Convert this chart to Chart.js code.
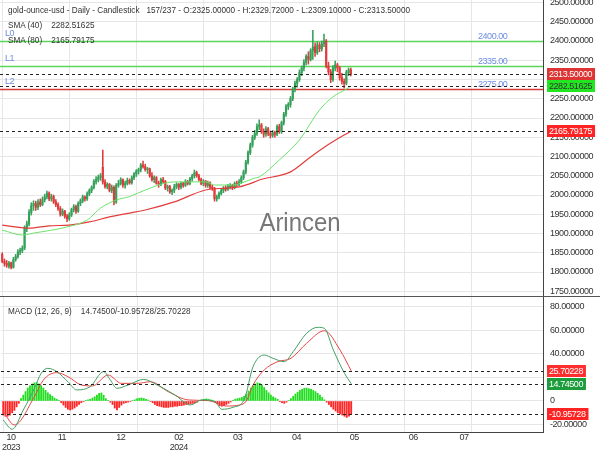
<!DOCTYPE html>
<html>
<head>
<meta charset="utf-8">
<script src="https://cdn.jsdelivr.net/npm/chart.js@4.4.1/dist/chart.umd.min.js"></script>
<style>
  html, body { margin: 0; padding: 0; background: #fff; }
  #wrap { position: relative; width: 600px; height: 450px; overflow: hidden;
          font-family: "Liberation Sans", Arial, sans-serif; color: #333; }
  canvas { position: absolute; left: 0; }
  #main { top: 0; }
  #macd { top: 297px; }
  .txt { position: absolute; font-size: 9px; line-height: 10px; white-space: pre; color: #333;
         transform: scaleX(0.91); transform-origin: 0 0; }
  .sep { position: absolute; left: 0; top: 296px; width: 600px; height: 1px; background: #555; }
  .mark { position: absolute; left: 0; width: 600px; top: 207px; text-align: center;
          font-size: 26px; line-height: 30px; color: rgba(95, 95, 95, 0.85);
          transform: scaleX(0.92); transform-origin: 300px 0; }
</style>
</head>
<body>
<div id="wrap">
  <canvas id="main" width="600" height="297"></canvas>
  <canvas id="macd" width="600" height="153"></canvas>
  <div class="sep"></div>
  <div class="mark">Arincen</div>
  <div class="txt" style="left:8px;top:5px">gold-ounce-usd - Daily - Candlestick   157/237 - O:2325.00000 - H:2329.72000 - L:2309.10000 - C:2313.50000</div>
  <div class="txt" style="left:8px;top:20px">SMA (40)    2282.51625</div>
  <div class="txt" style="left:8px;top:35px">SMA (80)    2165.79175</div>
  <div class="txt" style="left:8px;top:306px">MACD (12, 26, 9)    14.74500/-10.95728/25.70228</div>
</div>
<script>
// ---- candles (157 daily bars) ----
const opens = [
  1846,1828,1822,1815,1824,1812,1832,1840,1852,1856,
  1862,1915,1925,1955,1972,1978,1968,1982,1975,1988,
  1995,2005,1990,1996,1982,1975,1965,1950,1958,1945,
  1938,1948,1962,1970,1958,1978,1985,1995,1990,2003,
  2012,2020,2035,2040,2046,2072,2034,2022,2028,2012,
  2020,1982,2025,2030,2040,2026,2030,2038,2032,2045,
  2055,2062,2066,2078,2074,2066,2068,2050,2040,2045,
  2030,2028,2040,2035,2018,2022,2008,2012,2022,2028,
  2020,2030,2025,2035,2030,2042,2050,2058,2050,2040,
  2030,2036,2025,2032,2020,2018,1990,1995,2004,2012,
  2018,2015,2022,2025,2020,2030,2028,2034,2045,2060,
  2085,2110,2130,2150,2160,2178,2182,2165,2158,2172,
  2160,2155,2162,2158,2178,2165,2188,2210,2230,2235,
  2250,2275,2290,2300,2318,2330,2345,2360,2352,2375,
  2385,2370,2390,2380,2392,2400,2335,2320,2300,2330,
  2338,2330,2305,2295,2290,2318,2325];
const highs = [
  1850,1834,1830,1828,1826,1838,1846,1858,1862,1868,
  1920,1932,1962,1980,1985,1984,1988,1990,1995,2002,
  2010,2008,2002,2000,1988,1980,1970,1964,1960,1950,
  1954,1966,1975,1974,1982,1990,2000,1998,2008,2016,
  2024,2040,2048,2052,2056,2117,2040,2032,2030,2026,
  2024,2030,2038,2045,2042,2036,2044,2042,2050,2058,
  2066,2070,2082,2088,2080,2072,2070,2058,2050,2048,
  2036,2044,2046,2038,2026,2025,2016,2028,2032,2030,
  2034,2033,2040,2038,2046,2054,2065,2062,2054,2044,
  2040,2038,2036,2034,2026,2020,2000,2008,2016,2022,
  2024,2028,2030,2028,2034,2036,2040,2050,2065,2090,
  2115,2135,2155,2168,2185,2195,2186,2172,2178,2176,
  2166,2168,2166,2182,2184,2192,2215,2235,2240,2256,
  2280,2296,2305,2325,2335,2352,2365,2372,2380,2428,
  2395,2398,2396,2400,2418,2404,2345,2326,2336,2348,
  2342,2334,2316,2302,2324,2330,2329.72];
const lows = [
  1824,1815,1812,1810,1808,1810,1828,1836,1845,1850,
  1858,1905,1920,1948,1960,1960,1962,1970,1972,1982,
  1990,1985,1984,1978,1970,1960,1945,1946,1940,1931,
  1934,1944,1956,1952,1955,1972,1980,1984,1986,1998,
  2006,2016,2028,2034,2038,2028,2018,2016,2008,2006,
  1974,1978,2020,2026,2020,2018,2026,2028,2028,2040,
  2048,2054,2060,2070,2062,2056,2046,2036,2032,2028,
  2020,2024,2030,2014,2010,2004,2001,2006,2016,2014,
  2016,2020,2022,2026,2026,2036,2044,2046,2036,2026,
  2024,2020,2020,2016,2012,1984,1984,1990,2000,2006,
  2010,2012,2016,2014,2016,2022,2024,2030,2040,2055,
  2080,2105,2124,2144,2155,2170,2160,2150,2152,2154,
  2148,2150,2150,2154,2160,2160,2182,2204,2222,2228,
  2245,2268,2280,2295,2310,2322,2338,2340,2348,2352,
  2360,2365,2372,2374,2385,2330,2312,2292,2295,2322,
  2320,2298,2288,2278,2286,2310,2309.1];
const closes = [
  1828,1822,1818,1824,1812,1832,1840,1852,1856,1862,
  1915,1925,1955,1972,1978,1968,1982,1975,1988,1995,
  2005,1990,1996,1982,1975,1965,1950,1958,1945,1938,
  1948,1962,1970,1958,1978,1985,1995,1990,2003,2012,
  2020,2035,2040,2046,2050,2034,2022,2028,2012,2020,
  1982,2025,2030,2040,2026,2030,2038,2032,2045,2055,
  2062,2066,2078,2074,2066,2068,2050,2040,2045,2030,
  2028,2040,2035,2018,2022,2008,2012,2022,2028,2020,
  2030,2025,2035,2030,2042,2050,2058,2050,2040,2030,
  2036,2025,2032,2020,2018,1990,1995,2004,2012,2018,
  2015,2022,2025,2020,2030,2028,2034,2045,2060,2085,
  2110,2130,2150,2160,2178,2182,2165,2158,2172,2160,
  2155,2162,2158,2178,2165,2188,2210,2230,2235,2250,
  2275,2290,2300,2318,2330,2345,2360,2352,2375,2385,
  2370,2390,2380,2392,2400,2335,2320,2300,2330,2338,
  2330,2305,2295,2290,2318,2325,2313.5];

// ---- moving averages (read at bar positions) ----
const sma40Bars = [0,9,14,29,38,44,51,57,64,73,77,91,95,103,107,113,115,124,133,142,148,154,156];
const sma40Vals = [1909,1896,1901,1917,1935,1966,1987,1996,2013,2031,2034,2034,2026,2026,2031,2044,2047,2091,2143,2221,2255,2275,2282.52];
const sma80Bars = [0,12,21,30,39,48,57,64,77,91,100,106,113,115,129,138,147,156];
const sma80Vals = [1922,1914,1920,1922,1930,1943,1953,1961,1982,2013,2018,2021,2034,2039,2060,2099,2135,2165.79];

// ---- MACD (12, 26, 9) ----
const macdBars = [0,4,9,14,17,20,24,29,33,39,45,48,51,56,63,69,77,84,89,95,98,103,108,112,117,121,126,130,136,141,144,148,153,156];
const macdVals = [-16.2,-24.1,-7.7,10.8,23.6,27.8,25,16.4,9.4,12.2,25,17.9,10.8,13.6,18.4,13.6,5.1,-3.4,0.9,-0.6,-7.1,-5.4,0.9,29.2,39.1,36.3,33.4,42,57.6,62.7,61.8,43.4,23.6,14.745];
const signalBars = [0,5,14,18,24,29,35,40,47,53,60,66,74,83,92,100,106,109,112,117,123,129,136,144,151,156];
const signalVals = [-9,-20.4,3.7,17.9,24.1,20.7,13.6,12.8,22.1,15,15,16.4,7.9,0.9,0.3,-4.3,-3.4,0,13.6,26.4,33.4,36.3,49.1,59.8,43.4,25.70228];
const histVals = [
  -12,-13,-13,-12,-10,-8,-5,-2,2,5,
  8,11,13,14.5,15.5,15.5,14.5,13,11,9,
  7,5.5,4,2.5,1.5,0.5,-1.5,-3.5,-5.5,-7,
  -7.7,-7,-6,-4.5,-3,-1.5,-0.5,0.5,1,1.5,
  2.5,3.5,5,6.5,6.8,5,2,0.5,-1,-3,
  -6,-7.7,-5.5,-3.5,-2,-1.5,-1,-0.5,0.5,1,
  1.8,2.4,2.6,2.2,1.5,0.8,-0.5,-1.5,-3,-4,
  -4.5,-5,-5.5,-5.5,-5.5,-5,-5,-4.5,-4.5,-4,
  -4,-3.5,-3,-3,-2.5,-2,-1.5,-1,0.5,1,
  1.5,1.8,1.5,1,0.5,-1,-2.5,-4,-4.5,-4,
  -3,-2,-0.8,0.5,1.5,2,2.5,3,4,6,
  8.5,11,13,14.5,15.5,15,13.5,11.5,9,7,
  5,3.5,2.5,1.5,-0.3,-1.5,-2,-1,0.5,2,
  4,6,7.5,9,10,10.8,11,10.5,10,9,
  8,6.5,5,3,1,-1,-3,-5,-7,-8.5,
  -10,-11,-12,-13,-14,-13,-10.95728];

// ---- axes ----
const priceTicks = [1750,1800,1850,1900,1950,2000,2050,2100,2150,2200,2250,2300,2350,2400,2450,2500];
const macdTicks = [-20,0,20,40,60,80];
const macdTickLabels = ['-20.00000','0','','40.00000','60.00000','80.00000'];
const gridBars = [0,30,60,90,120,150,180,210];
const monthBars = [3.5,26.3,52.7,78.7,105.1,131.5,157.4,183.8,206.6];
const monthLabels = [['10','2023'],'11','12',['02','2024'],'03','04','05','06','07'];

// ---- levels and markers ----
const levelNames = ['L0','L1','L2'];
const levelValues = [2400,2335,2275];
const levelColors = ['#5ad65a','#5ad65a','#d83a3a'];
const priceMarks = [2313.5,2282.51625,2165.79175];
const priceMarkBg = ['#dd3434','#22e622','#ff2424'];
const priceMarkFg = ['#fff','#333','#fff'];
const macdMarks = [25.70228,14.745,-10.95728];
const macdMarkBg = ['#ff2e2e','#1c9c3c','#ff2424'];
const macdMarkFg = ['#fff','#fff','#fff'];

const FONT = '"Liberation Sans", Arial, sans-serif';
Chart.defaults.font.family = FONT;
Chart.defaults.font.size = 9;
Chart.defaults.color = '#333';

const UP = '#35a05a', DOWN = '#e03a3a';
const candleColors = closes.map((c, i) => c >= opens[i] ? UP : DOWN);
const X_MIN = -1, X_MAX = 242;

// narrower text, like the original
const tightText = {
  id: 'tightText',
  beforeDraw(chart) { chart.ctx.letterSpacing = '-0.45px'; }
};

function markersPlugin(values, bgs, fgs, fmt) {
  return {
    id: 'markers',
    afterDatasetsDraw(chart) {
      const { ctx, chartArea: a, scales: { y } } = chart;
      ctx.save();
      ctx.strokeStyle = '#222';
      ctx.lineWidth = 1;
      ctx.setLineDash([3, 3]);
      values.forEach(v => {
        const py = Math.round(y.getPixelForValue(v)) + 0.5;
        ctx.beginPath(); ctx.moveTo(a.left, py); ctx.lineTo(a.right, py); ctx.stroke();
      });
      ctx.restore();
    },
    afterDraw(chart) {
      const { ctx, chartArea: a, scales: { y } } = chart;
      ctx.save();
      ctx.font = '9px ' + FONT;
      ctx.textBaseline = 'middle';
      values.forEach((v, i) => {
        const py = Math.round(y.getPixelForValue(v));
        const text = fmt(v);
        const w = ctx.measureText(text).width;
        ctx.fillStyle = bgs[i];
        ctx.fillRect(a.right + 4, py - 6, w + 5, 12);
        ctx.fillStyle = fgs[i];
        ctx.fillText(text, a.right + 6, py + 0.5);
      });
      ctx.restore();
    }
  };
}

const levelsPlugin = {
  id: 'levels',
  beforeDatasetsDraw(chart) {
    const { ctx, chartArea: a, scales: { y } } = chart;
    ctx.save();
    ctx.font = '9px ' + FONT;
    ctx.textBaseline = 'middle';
    levelValues.forEach((v, i) => {
      const py = Math.round(y.getPixelForValue(v)) + 0.5;
      ctx.strokeStyle = levelColors[i];
      ctx.lineWidth = 1.5;
      ctx.beginPath(); ctx.moveTo(a.left, py); ctx.lineTo(a.right, py); ctx.stroke();
      ctx.fillStyle = '#6f8ee0';
      ctx.fillText(levelNames[i], 5, py - 8);
      ctx.fillText(v.toFixed(2), 478, py - 5);
    });
    ctx.restore();
  }
};

const gridAxis = {
  type: 'linear', min: X_MIN, max: X_MAX, offset: false,
  afterBuildTicks: s => { s.ticks = gridBars.map(v => ({ value: v })); },
  ticks: { display: false },
  grid: { color: '#e6e6e6', drawTicks: false, offset: false },
  border: { display: false }
};

new Chart(document.getElementById('main'), {
  type: 'bar',
  data: {
    datasets: [
      { type: 'line', data: sma40Bars.map((b, i) => ({ x: b, y: sma40Vals[i] })),
        borderColor: '#6ae46a', borderWidth: 1, pointRadius: 0, cubicInterpolationMode: 'monotone' },
      { type: 'line', data: sma80Bars.map((b, i) => ({ x: b, y: sma80Vals[i] })),
        borderColor: '#e23c3c', borderWidth: 1.2, pointRadius: 0, cubicInterpolationMode: 'monotone' },
      { data: closes.map((c, i) => ({ x: i, y: [opens[i], c] })),
        backgroundColor: candleColors, barThickness: 1.5, grouped: false, minBarLength: 1 },
      { data: closes.map((c, i) => ({ x: i, y: [lows[i], highs[i]] })),
        backgroundColor: candleColors, barThickness: 0.9, grouped: false }
    ]
  },
  options: {
    responsive: false, animation: false, events: [],
    layout: { padding: { left: 0, right: 0, top: 0, bottom: 1 } },
    plugins: { legend: { display: false }, tooltip: { enabled: false } },
    scales: {
      x: gridAxis,
      y: {
        position: 'right', min: 1737.7, max: 2506.5,
        afterBuildTicks: s => { s.ticks = priceTicks.map(v => ({ value: v })); },
        afterFit: s => { s.width = 57; s.paddingTop = 0; s.paddingBottom = 0; },
        ticks: { padding: 7, callback: v => v.toFixed(5) },
        grid: { color: '#e6e6e6', drawTicks: false },
        border: { display: true, color: '#444', width: 1 }
      }
    }
  },
  plugins: [tightText, levelsPlugin, markersPlugin(priceMarks, priceMarkBg, priceMarkFg, v => v.toFixed(5))]
});

new Chart(document.getElementById('macd'), {
  type: 'bar',
  data: {
    datasets: [
      { type: 'line', data: macdBars.map((b, i) => ({ x: b, y: macdVals[i] })),
        borderColor: '#43a063', borderWidth: 1, pointRadius: 0, cubicInterpolationMode: 'monotone' },
      { type: 'line', data: signalBars.map((b, i) => ({ x: b, y: signalVals[i] })),
        borderColor: '#e84545', borderWidth: 1, pointRadius: 0, cubicInterpolationMode: 'monotone' },
      { data: histVals.map((h, i) => ({ x: i, y: h })),
        backgroundColor: histVals.map(h => h >= 0 ? '#22dd22' : '#ff2626'), barThickness: 1.2 }
    ]
  },
  options: {
    responsive: false, animation: false, events: [],
    layout: { padding: 0 },
    plugins: { legend: { display: false }, tooltip: { enabled: false } },
    scales: {
      x: Object.assign({}, gridAxis, { border: { display: true, color: '#444', width: 1 } }),
      xm: {
        type: 'linear', position: 'bottom', min: X_MIN, max: X_MAX, offset: false,
        afterBuildTicks: s => { s.ticks = monthBars.map(v => ({ value: v })); },
        afterFit: s => { s.height = 18; },
        ticks: { autoSkip: false, maxRotation: 0, padding: 1, font: { size: 9, lineHeight: 1.05 },
                 callback: (v, i) => monthLabels[i] },
        grid: { display: false, drawTicks: false },
        border: { display: false }
      },
      y: {
        position: 'right', min: -26.4, max: 88.5,
        afterBuildTicks: s => { s.ticks = macdTicks.map(v => ({ value: v })); },
        afterFit: s => { s.width = 57; s.paddingTop = 0; s.paddingBottom = 0; },
        ticks: { padding: 7, callback: (v, i) => macdTickLabels[i] },
        grid: { color: '#e6e6e6', drawTicks: false },
        border: { display: true, color: '#444', width: 1 }
      }
    }
  },
  plugins: [tightText, markersPlugin(macdMarks, macdMarkBg, macdMarkFg, v => v.toFixed(5))]
});
</script>
</body>
</html>
